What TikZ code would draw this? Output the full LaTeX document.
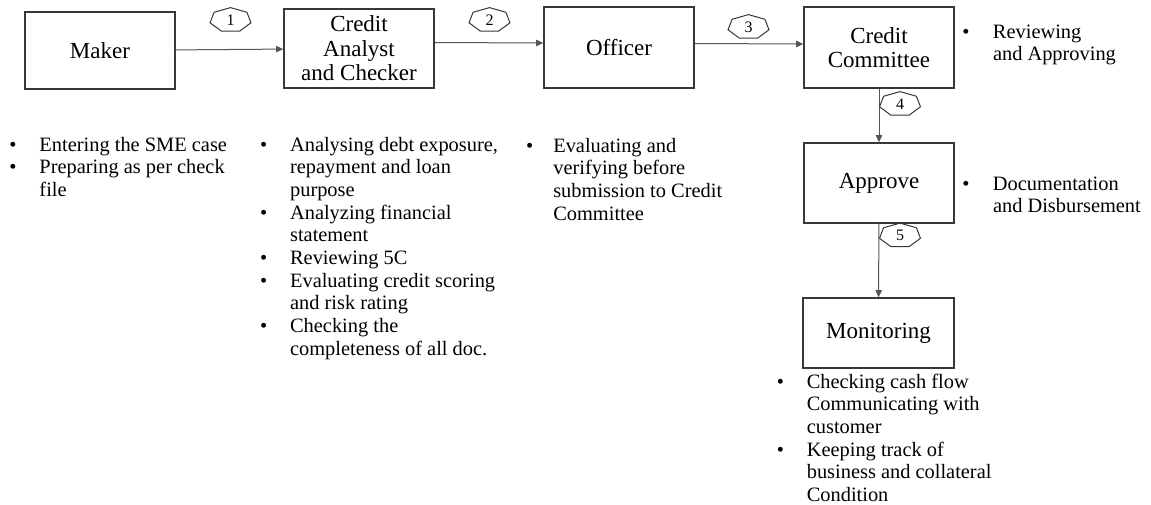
\documentclass[tikz,border=0pt]{standalone}
\usepackage{fontspec}
\setmainfont{Liberation Serif}
\usetikzlibrary{arrows.meta,calc}
\definecolor{boxline}{RGB}{55,55,55}
\definecolor{flowline}{RGB}{85,85,85}
\newcommand{\notefont}{\fontsize{10.2}{11.35}\selectfont}
\newcommand{\boxfont}{\fontsize{11.5}{12.2}\selectfont}
\newcommand{\tagfont}{\fontsize{8}{9}\selectfont}

\tikzset{
    stage/.style={draw=boxline, line width=0.8pt, minimum width=75pt, minimum height=40pt,
        align=center, font=\boxfont, inner sep=0pt},
    notes/.style={anchor=base west, inner sep=0pt, font=\notefont},
    flow/.style={draw=flowline, line width=0.5pt, -{Triangle[length=3.5pt,width=3.2pt]}},
    tagline/.style={draw=boxline, line width=0.5pt}
}

% numbered step tag (flattened heptagon)
\newcommand{\steptag}[3]{%
    \node[font=\tagfont, inner sep=0pt] (#1) at (#2) {#3};
    \draw[tagline] ($(#1)+(90:10.5pt and 6.2pt)$)
        \foreach \k in {1,...,6} { -- ($(#1)+({90+\k*360/7}:10.5pt and 6.2pt)$) } -- cycle;
}

\begin{document}
\begin{tikzpicture}[x=0.5pt, y=-0.5pt]
    \useasboundingbox (0,0) rectangle (1151,504);

    % Stages
    \node[stage, minimum height=38.5pt] (maker) at (100,50.5) {Maker};
    \node[stage, minimum height=39.5pt] (analyst) at (359,48.5) {Credit\\Analyst\\and Checker};
    \node[stage, minimum height=40.5pt] (officer) at (619,47.5) {Officer};
    \node[stage, minimum height=40.5pt] (committee) at (879,47.5) {Credit\\Committee};
    \node[stage] (approve) at (879,183) {Approve};
    \node[stage, minimum width=75.5pt, minimum height=35pt] (monitor) at (878.5,333) {Monitoring};

    % Flow
    \draw[flow] (maker) -- (analyst);
    \draw[flow] ([yshift=3pt]analyst.east) -- ([yshift=2.25pt]officer.west);
    \draw[flow] ([yshift=2pt]officer.east) -- ([yshift=1.75pt]committee.west);
    \draw[flow] (committee) -- (approve);
    \draw[flow] (approve) -- (monitor);

    % Step numbers
    \steptag{tag1}{230.5,20}{1}
    \steptag{tag2}{489.5,20}{2}
    \steptag{tag3}{748.5,27}{3}
    \steptag{tag4}{900,104}{4}
    \steptag{tag5}{900,235.5}{5}

    % Tasks of each stage
    \node[notes] (makernotes) at (9.1,151) {\begin{tabular}[t]{@{}p{15pt}@{}l@{}}
        \textbullet & Entering the SME case\\
        \textbullet & Preparing as per check\\
                    & file
    \end{tabular}};
    \node[notes] (analystnotes) at (259.7,151) {\begin{tabular}[t]{@{}p{15pt}@{}l@{}}
        \textbullet & Analysing debt exposure,\\
                    & repayment and loan\\
                    & purpose\\
        \textbullet & Analyzing financial\\
                    & statement\\
        \textbullet & Reviewing 5C\\
        \textbullet & Evaluating credit scoring\\
                    & and risk rating\\
        \textbullet & Checking the\\
                    & completeness of all doc.
    \end{tabular}};
    \node[notes] (officernotes) at (525.7,152) {\begin{tabular}[t]{@{}p{13.6pt}@{}l@{}}
        \textbullet & Evaluating and\\
                    & verifying before\\
                    & submission to Credit\\
                    & Committee
    \end{tabular}};
    \node[notes] (committeenotes) at (962,38) {\begin{tabular}[t]{@{}p{15.3pt}@{}l@{}}
        \textbullet & Reviewing\\
                    & and Approving
    \end{tabular}};
    \node[notes] (approvenotes) at (962,190) {\begin{tabular}[t]{@{}p{15.3pt}@{}l@{}}
        \textbullet & Documentation\\
                    & and Disbursement
    \end{tabular}};
    \node[notes] (monitornotes) at (776.4,388) {\begin{tabular}[t]{@{}p{15pt}@{}l@{}}
        \textbullet & Checking cash flow\\
                    & Communicating with\\
                    & customer\\
        \textbullet & Keeping track of\\
                    & business and collateral\\
                    & Condition
    \end{tabular}};
\end{tikzpicture}
\end{document}
